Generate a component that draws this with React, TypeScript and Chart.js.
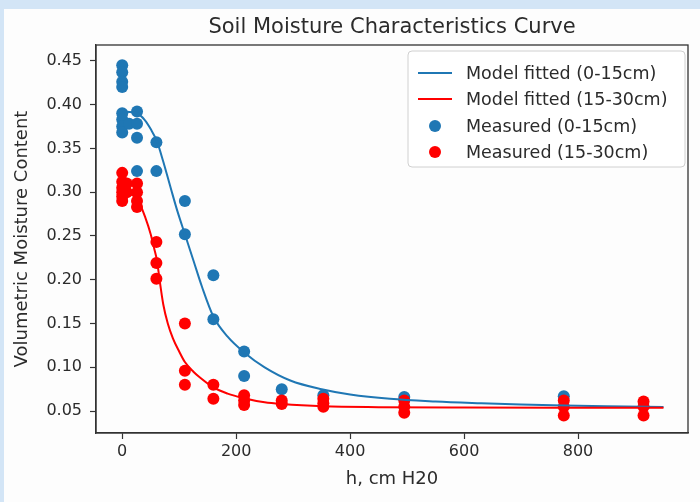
import { useEffect, useRef } from 'react';
import { Chart, registerables } from 'chart.js';

Chart.register(...registerables);

// ---- data ----
const xTicks = [0, 200, 400, 600, 800];
const yTicks = [0.05, 0.1, 0.15, 0.2, 0.25, 0.3, 0.35, 0.4, 0.45];

const measuredTopH = [0, 0, 0, 0, 0, 0, 0, 0, 12, 26, 26, 26, 26, 60, 60, 110, 110, 160, 160, 214, 214, 280, 353, 495, 775];
const measuredTopTheta = [0.445, 0.437, 0.426, 0.42, 0.39, 0.383, 0.375, 0.368, 0.378, 0.392, 0.378, 0.362, 0.324, 0.357, 0.324, 0.29, 0.252, 0.205, 0.155, 0.118, 0.09, 0.075, 0.068, 0.066, 0.067];

const measuredSubH = [0, 0, 0, 0, 0, 0, 8, 8, 26, 26, 26, 26, 60, 60, 60, 110, 110, 110, 160, 160, 214, 214, 214, 280, 280, 353, 353, 353, 495, 495, 495, 775, 775, 775, 915, 915, 915];
const measuredSubTheta = [0.322, 0.312, 0.305, 0.3, 0.295, 0.29, 0.31, 0.3, 0.31, 0.3, 0.29, 0.283, 0.243, 0.219, 0.201, 0.15, 0.096, 0.08, 0.08, 0.064, 0.068, 0.062, 0.057, 0.062, 0.058, 0.064, 0.059, 0.055, 0.062, 0.055, 0.048, 0.062, 0.055, 0.045, 0.061, 0.055, 0.045];

const fitTopH = [0, 26, 40, 50, 61, 72, 85, 97, 110, 125, 140, 160, 185, 214, 250, 295, 350, 400, 470, 550, 630, 700, 775, 850, 950];
const fitTopTheta = [0.392, 0.39, 0.382, 0.372, 0.358, 0.335, 0.305, 0.278, 0.252, 0.222, 0.192, 0.158, 0.135, 0.117, 0.1, 0.085, 0.075, 0.069, 0.064, 0.061, 0.059, 0.0575, 0.0563, 0.0555, 0.0548];

const fitSubH = [0, 20, 30, 40, 50, 56, 61, 66, 72, 80, 89, 100, 110, 125, 137, 160, 185, 212, 250, 281, 353, 450, 600, 800, 950];
const fitSubTheta = [0.3, 0.296, 0.288, 0.272, 0.252, 0.236, 0.222, 0.198, 0.172, 0.15, 0.133, 0.118, 0.106, 0.095, 0.088, 0.077, 0.07, 0.065, 0.06, 0.058, 0.0555, 0.0545, 0.054, 0.0538, 0.0537];

const seriesLabels = ['Model fitted (0-15cm)', 'Model fitted (15-30cm)', 'Measured (0-15cm)', 'Measured (15-30cm)'];
const titleText = 'Soil Moisture Characteristics Curve';
const xTitle = 'h, cm H20';
const yTitle = 'Volumetric Moisture Content';

const BLUE = '#1f77b4';
const RED = '#ff0000';
const FONT = "'DejaVu Sans', sans-serif";
const TEXT = '#2b2b2b';

const zip = (xs: number[], ys: number[]) => xs.map((x, i) => ({ x, y: ys[i] }));

const decorPlugin = {
  id: 'decor',
  beforeDraw(chart: any) {
    const { ctx, width, height } = chart;
    ctx.save();
    ctx.fillStyle = '#fdfdfd';
    ctx.fillRect(0, 0, width, height);
    ctx.fillStyle = '#d3e5f6';
    ctx.fillRect(0, 0, width, 9);
    ctx.fillRect(0, 0, 4, height);
    ctx.restore();
  },
  afterDraw(chart: any) {
    const { ctx, chartArea: a } = chart;
    ctx.save();
    // frame
    ctx.strokeStyle = '#333';
    ctx.lineWidth = 1.3;
    ctx.strokeRect(a.left, a.top, a.right - a.left, a.bottom - a.top);
    // title
    ctx.fillStyle = TEXT;
    ctx.textAlign = 'center';
    ctx.textBaseline = 'middle';
    ctx.font = `21px ${FONT}`;
    ctx.fillText(titleText, (a.left + a.right) / 2, 28);
    // axis titles
    ctx.font = `18px ${FONT}`;
    ctx.fillText(xTitle, (a.left + a.right) / 2, 479);
    ctx.save();
    ctx.translate(22, (a.top + a.bottom) / 2);
    ctx.rotate(-Math.PI / 2);
    ctx.fillText(yTitle, 0, 0);
    ctx.restore();
    // legend
    const bx = 408, by = 51, bw = 277, bh = 116;
    ctx.fillStyle = 'rgba(255,255,255,0.85)';
    ctx.strokeStyle = '#d0d0d0';
    ctx.lineWidth = 1;
    ctx.beginPath();
    (ctx as any).roundRect(bx, by, bw, bh, 4);
    ctx.fill();
    ctx.stroke();
    const rows = [73, 99, 126, 152];
    const colors = [BLUE, RED, BLUE, RED];
    ctx.font = `17.5px ${FONT}`;
    ctx.textAlign = 'left';
    rows.forEach((ry, i) => {
      ctx.strokeStyle = colors[i];
      ctx.fillStyle = colors[i];
      if (i < 2) {
        ctx.lineWidth = 2;
        ctx.beginPath();
        ctx.moveTo(418, ry);
        ctx.lineTo(452, ry);
        ctx.stroke();
      } else {
        ctx.beginPath();
        ctx.arc(435, ry, 6, 0, Math.PI * 2);
        ctx.fill();
      }
      ctx.fillStyle = TEXT;
      ctx.fillText(seriesLabels[i], 466, ry + 1);
    });
    ctx.restore();
  },
};

export default function App() {
  const ref = useRef<HTMLCanvasElement>(null);
  useEffect(() => {
    if (!ref.current) return;
    const chart = new Chart(ref.current, {
      type: 'scatter',
      data: {
        datasets: [
          {
            type: 'line',
            label: seriesLabels[0],
            data: zip(fitTopH, fitTopTheta),
            borderColor: BLUE,
            borderWidth: 2,
            pointRadius: 0,
            cubicInterpolationMode: 'monotone',
            fill: false,
            order: 1,
          },
          {
            type: 'line',
            label: seriesLabels[1],
            data: zip(fitSubH, fitSubTheta),
            borderColor: RED,
            borderWidth: 2,
            pointRadius: 0,
            cubicInterpolationMode: 'monotone',
            fill: false,
            order: 0,
          },
          {
            label: seriesLabels[2],
            data: zip(measuredTopH, measuredTopTheta),
            backgroundColor: BLUE,
            borderWidth: 0,
            pointRadius: 6,
            order: 3,
          },
          {
            label: seriesLabels[3],
            data: zip(measuredSubH, measuredSubTheta),
            backgroundColor: RED,
            borderWidth: 0,
            pointRadius: 6,
            order: 2,
          },
        ],
      } as any,
      options: {
        animation: false,
        responsive: false,
        devicePixelRatio: 1,
        layout: { padding: { top: 45, right: 12, left: 0, bottom: 0 } },
        plugins: { legend: { display: false }, tooltip: { enabled: false }, title: { display: false } },
        scales: {
          x: {
            type: 'linear',
            min: -46,
            max: 993,
            afterFit: (s: any) => { s.height = 69; },
            afterBuildTicks: (s: any) => { s.ticks = xTicks.map((v) => ({ value: v })); },
            grid: { display: true, drawOnChartArea: false, drawTicks: true, tickLength: 6, color: '#333', tickWidth: 1.2 },
            border: { display: true, color: '#333', width: 1.3 },
            ticks: { color: TEXT, font: { family: FONT, size: 16 }, padding: 3, maxRotation: 0, callback: (v: any) => String(v) },
          },
          y: {
            type: 'linear',
            min: 0.025,
            max: 0.468,
            afterFit: (s: any) => { s.width = 96; },
            afterBuildTicks: (s: any) => { s.ticks = yTicks.map((v) => ({ value: v })); },
            grid: { display: true, drawOnChartArea: false, drawTicks: true, tickLength: 6, color: '#333', tickWidth: 1.2 },
            border: { display: true, color: '#333', width: 1.3 },
            ticks: { color: TEXT, font: { family: FONT, size: 16 }, padding: 8, callback: (v: any) => Number(v).toFixed(2) },
          },
        },
      } as any,
      plugins: [decorPlugin],
    });
    return () => chart.destroy();
  }, []);
  return (
    <div style={{ position: 'absolute', left: 0, top: 0, width: 700, height: 502 }}>
      <canvas ref={ref} width={700} height={502} style={{ width: 700, height: 502, display: 'block' }} />
    </div>
  );
}
